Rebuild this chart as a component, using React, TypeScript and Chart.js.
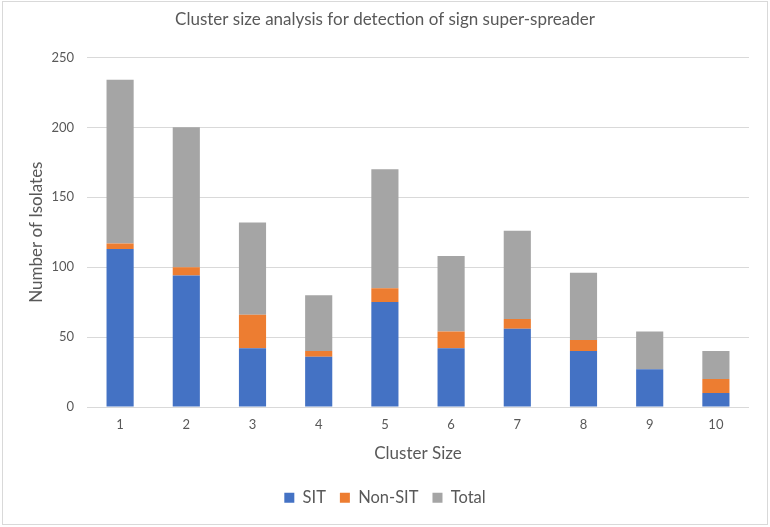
import React, { useEffect, useRef } from "react";
import { Chart, registerables } from "chart.js";

Chart.register(...registerables);

const categories = ["1", "2", "3", "4", "5", "6", "7", "8", "9", "10"];
const sitValues = [113, 94, 42, 36, 75, 42, 56, 40, 27, 10];
const nonSitValues = [4, 6, 24, 4, 10, 12, 7, 8, 0, 10];
const totalValues = [117, 100, 66, 40, 85, 54, 63, 48, 27, 20];

const titleText = "Cluster size analysis for detection of sign super-spreader";
const yTitle = "Number of Isolates";
const xTitle = "Cluster Size";

const FONT = "Lato, 'Noto Sans', sans-serif";
const TEXT = "#595959";

const borderPlugin = {
  id: "outerBorder",
  beforeDraw(chart: any) {
    const { ctx, width, height } = chart;
    ctx.save();
    ctx.fillStyle = "#ffffff";
    ctx.fillRect(0, 0, width, height);
    ctx.strokeStyle = "#d9d9d9";
    ctx.lineWidth = 1;
    ctx.strokeRect(2.5, 1.5, width - 5, height - 4);
    ctx.restore();
  },
};

export default function App() {
  const ref = useRef<HTMLCanvasElement>(null);
  useEffect(() => {
    document.body.style.margin = "0";
    const canvas = ref.current!;
    const chart = new Chart(canvas, {
      type: "bar",
      data: {
        labels: categories,
        datasets: [
          { label: "SIT", data: sitValues, backgroundColor: "#4472C4" },
          { label: "Non-SIT", data: nonSitValues, backgroundColor: "#ED7D31" },
          { label: "Total", data: totalValues, backgroundColor: "#A5A5A5" },
        ],
      },
      options: {
        responsive: false,
        animation: false,
        layout: { padding: { left: 0, right: 0, top: 0, bottom: 11 } },
        datasets: { bar: { categoryPercentage: 0.41, barPercentage: 1 } },
        scales: {
          x: {
            stacked: true,
            grid: { display: false, drawTicks: false },
            border: { display: false },
            ticks: { color: TEXT, font: { family: FONT, size: 13 }, padding: 10 },
            title: {
              display: true,
              text: xTitle,
              color: TEXT,
              font: { family: FONT, size: 17 },
              padding: { top: 0, bottom: 12 },
            },
            afterFit(scale: any) {
              scale.height = 68.5;
            },
          },
          y: {
            stacked: true,
            min: 0,
            max: 250,
            ticks: { stepSize: 50, color: TEXT, font: { family: FONT, size: 13 }, padding: 13 },
            grid: { color: "#d9d9d9", drawTicks: false },
            border: { display: false },
            title: {
              display: true,
              text: yTitle,
              color: TEXT,
              font: { family: FONT, size: 17 },
              padding: { top: 26, bottom: 0 },
            },
            afterFit(scale: any) {
              scale.width = 87;
            },
          },
          yRight: {
            position: "right",
            display: true,
            grid: { display: false, drawTicks: false },
            border: { display: false },
            ticks: { display: false },
            afterFit(scale: any) {
              scale.width = 21;
            },
          },
        },
        plugins: {
          title: {
            display: true,
            text: titleText,
            color: TEXT,
            font: { family: FONT, size: 17, weight: "normal" },
            padding: { top: 9, bottom: 28 },
          },
          legend: {
            position: "bottom",
            labels: {
              color: TEXT,
              font: { family: FONT, size: 16.5 },
              boxWidth: 10,
              boxHeight: 10,
              padding: 14,
            },
          },
          tooltip: { enabled: false },
        },
      },
      plugins: [borderPlugin],
    });
    return () => chart.destroy();
  }, []);
  return (
    <div style={{ width: 770, height: 527 }}>
      <canvas ref={ref} width={770} height={527} />
    </div>
  );
}
